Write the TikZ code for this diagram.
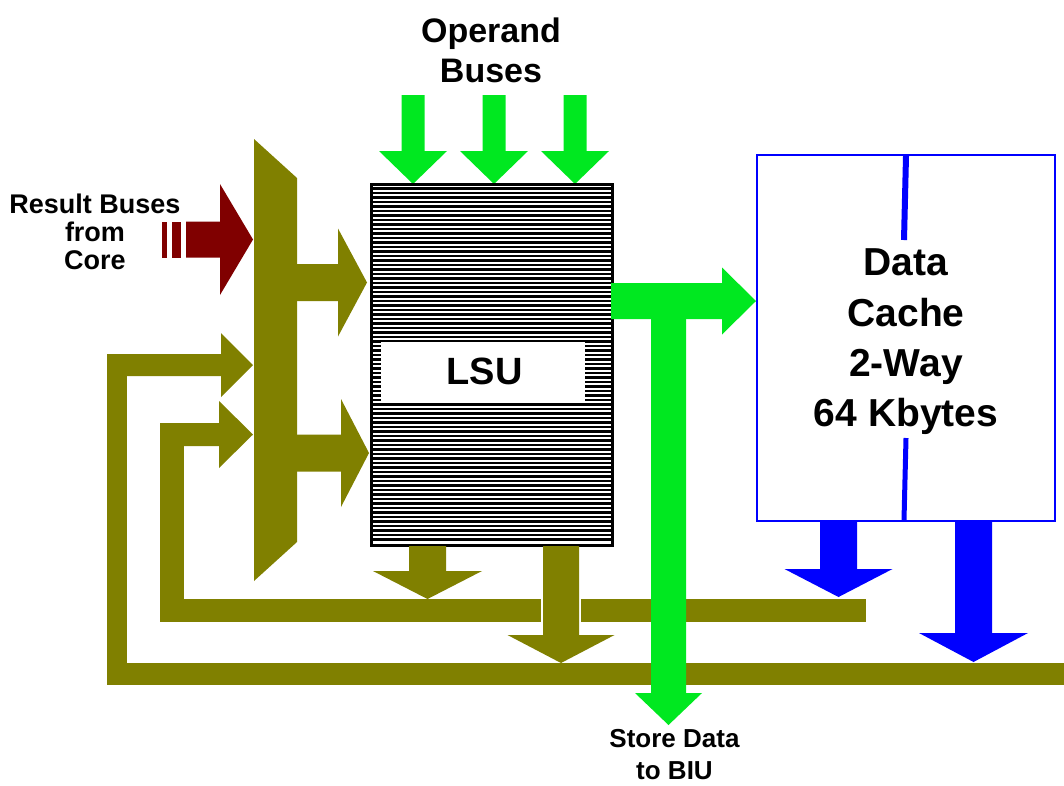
\documentclass[tikz,border=0pt]{standalone}
\usepackage{fontspec}
\setmainfont{Liberation Sans}
\definecolor{olivec}{HTML}{808000}
\definecolor{greenc}{HTML}{00E820}
\definecolor{redc}{HTML}{800000}
\definecolor{bluec}{HTML}{0000FF}
% down block arrow: colour, cx, y0, shaft half width, head y, head half width, tip y
\newcommand\dnarr[7]{\fill[#1] (#2-#4,#3) -- (#2+#4,#3) -- (#2+#4,#5) -- (#2+#6,#5) -- (#2,#7) -- (#2-#6,#5) -- (#2-#4,#5) -- cycle;}
% right block arrow: colour, x0, cy, shaft half width, head x, head half width, tip x
\newcommand\rtarr[7]{\fill[#1] (#2,#3-#4) -- (#5,#3-#4) -- (#5,#3-#6) -- (#7,#3) -- (#5,#3+#6) -- (#5,#3+#4) -- (#2,#3+#4) -- cycle;}
\tikzset{
  lbl/.style={inner sep=0pt, align=center, font=\bfseries},
}
\begin{document}
\begin{tikzpicture}[x=1pt,y=-1pt]
\useasboundingbox (0,0) rectangle (1064,785);

% labels
\node[lbl, font=\bfseries\fontsize{34}{40}\selectfont] (opl) at (491,50) {Operand\\Buses};
\node[lbl, font=\bfseries\fontsize{27}{28}\selectfont] (resl) at (95,231.5) {Result Buses\\from\\Core};
\node[lbl, font=\bfseries\fontsize{26}{32}\selectfont] (storel) at (674.5,755) {Store Data\\to BIU};

% feedback loops (olive)
\fill[olivec] (107,663) rectangle (1064,685);
\fill[olivec] (107,354) rectangle (127,685);
\rtarr{olivec}{107}{365}{11}{221}{32}{253}
\fill[olivec] (160,599) rectangle (541,622);
\fill[olivec] (581,599) rectangle (866,622);
\fill[olivec] (160,423) rectangle (184,622);
\rtarr{olivec}{160}{434.5}{11.5}{219}{33.5}{253}

% multiplexer
\fill[olivec] (254,139) -- (297,178) -- (297,542) -- (254,581) -- cycle;
\rtarr{olivec}{297}{282.5}{18.5}{338}{54}{367}
\rtarr{olivec}{297}{453}{18.5}{341}{54}{369}

% result buses arrow
\fill[redc] (162,222) rectangle (167,258);
\fill[redc] (172,222) rectangle (181,258);
\rtarr{redc}{186}{239.5}{18}{220}{55.5}{253}

% operand buses arrows
\dnarr{greenc}{413}{95}{11.5}{151}{34}{184}
\dnarr{greenc}{494}{95}{11.5}{151}{34}{184}
\dnarr{greenc}{575}{95}{11.5}{151}{34}{184}

% LSU block
\foreach \i in {0,...,78} {\draw[line width=2.3pt] (371,188.5+\i*4.5) -- (612,188.5+\i*4.5);}
\node[draw, line width=3pt, minimum width=241pt, minimum height=361pt, inner sep=0pt] (lsubox) at (491.5,364.5) {};
\fill[white] (381,342) rectangle (585,402);
\node[lbl, font=\bfseries\fontsize{38}{40}\selectfont] (lsu) at (484.5,371) {LSU};

% LSU outputs
\dnarr{olivec}{427.5}{546}{18.5}{571}{54.5}{599}
\dnarr{olivec}{561}{546}{18}{635}{53.5}{663}

% data cache
\node[draw=bluec, line width=2.5pt, minimum width=298pt, minimum height=366pt, inner sep=0pt] (cache) at (906,338) {};
\draw[bluec, line width=6pt] (906,156) -- (904,240);
\draw[bluec, line width=5pt] (906,438) -- (904,520);
\node[lbl, font=\bfseries\fontsize{39}{50.3}\selectfont] (cachel) at (906,342) {Data\\Cache\\2-Way\\64 Kbytes};

% cache outputs
\dnarr{bluec}{838.5}{522}{18.5}{569}{54}{597}
\dnarr{bluec}{973.5}{522}{18.5}{633}{54.5}{662}

% store data (green T)
\rtarr{greenc}{611}{301}{18}{722}{33.5}{756}
\dnarr{greenc}{668.5}{283}{17.5}{693}{33.5}{725}
\end{tikzpicture}
\end{document}
